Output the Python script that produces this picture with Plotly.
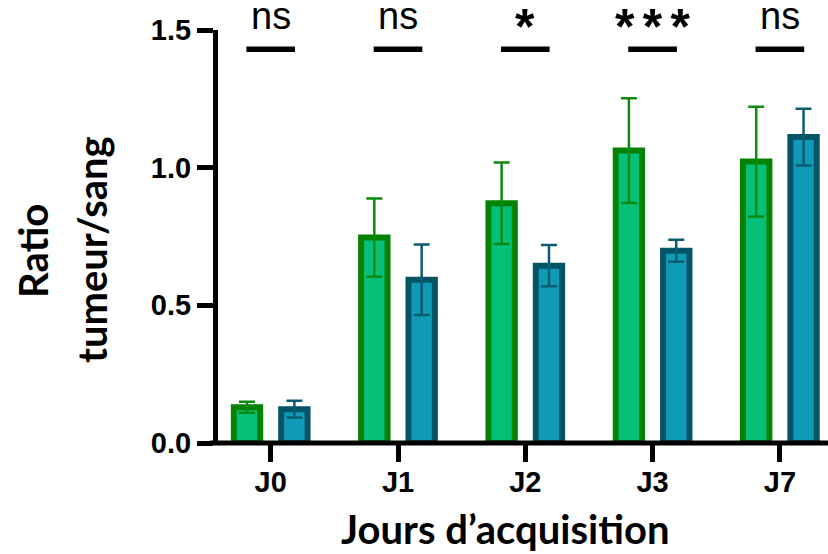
import plotly.graph_objects as go

categories = ["J0", "J1", "J2", "J3", "J7"]
green_mean = [0.130, 0.746, 0.871, 1.062, 1.022]
green_err = [0.020, 0.142, 0.148, 0.190, 0.199]
blue_mean = [0.123, 0.593, 0.644, 0.698, 1.111]
blue_err = [0.030, 0.128, 0.075, 0.040, 0.103]
significance = ["ns", "ns", "*", "*\u2006*\u2006*", "ns"]
ytick_vals = [0.0, 0.5, 1.0, 1.5]
ytick_text = ["0.0", "0.5", "1.0", "1.5"]

GREEN_FILL = "#06BF79"
GREEN_LINE = "#038203"
GREEN_ERR = "#0E8A0E"
BLUE_FILL = "#0F9AB5"
BLUE_LINE = "#045467"
BLUE_ERR = "#0C5C70"

W, H = 828, 554
L, R, T, B = 218, 0, 30, 111
PW = W - L - R

fig = go.Figure()
fig.add_trace(go.Bar(
    x=categories, y=green_mean,
    marker=dict(color=GREEN_FILL, line=dict(color=GREEN_LINE, width=6)),
    error_y=dict(type="data", array=green_err, visible=True,
                 color=GREEN_ERR, thickness=2.5, width=8),
    showlegend=False,
))
fig.add_trace(go.Bar(
    x=categories, y=blue_mean,
    marker=dict(color=BLUE_FILL, line=dict(color=BLUE_LINE, width=6)),
    error_y=dict(type="data", array=blue_err, visible=True,
                 color=BLUE_ERR, thickness=2.5, width=8),
    showlegend=False,
))

half = 0.186
shapes = []
# x axis line
shapes.append(dict(type="line", xref="paper", yref="paper",
                   x0=-8 / PW, x1=1, y0=0, y1=0,
                   line=dict(color="black", width=5)))
annotations = []
for i, s in enumerate(significance):
    shapes.append(dict(type="line", xref="x", yref="y",
                       x0=i - half - 0.005, x1=i + half + 0.005, y0=1.43, y1=1.43,
                       line=dict(color="black", width=5.5)))
    if s == "ns":
        annotations.append(dict(x=i, y=1, xref="x", yref="paper", text=s,
                                showarrow=False, yanchor="bottom", yshift=-9,
                                font=dict(family="Liberation Sans", size=38, color="black")))
    else:
        annotations.append(dict(x=i, y=1, xref="x", yref="paper", text=s,
                                showarrow=False, yanchor="bottom", yshift=-27,
                                font=dict(family="Liberation Sans", size=50, color="black",
                                          weight="bold")))

title_font = dict(family="Lato", size=40, color="black", weight="bold")
annotations.append(dict(x=(33 - L) / PW, y=(H - B - 251) / (H - T - B), xref="paper", yref="paper",
                        text="Ratio", textangle=-90, showarrow=False,
                        xanchor="center", yanchor="middle", font=title_font))
annotations.append(dict(x=(92 - L) / PW, y=(H - B - 249) / (H - T - B), xref="paper", yref="paper",
                        text="tumeur/sang", textangle=-90, showarrow=False,
                        xanchor="center", yanchor="middle", font=title_font))
annotations.append(dict(x=(505 - L) / PW, y=(H - B - 529) / (H - T - B), xref="paper", yref="paper",
                        text="Jours d\u2019acquisition", showarrow=False,
                        xanchor="center", yanchor="middle", font=title_font))

fig.update_layout(
    width=W, height=H, autosize=False,
    margin=dict(l=L, r=R, t=T, b=B),
    plot_bgcolor="white", paper_bgcolor="white",
    barmode="group", bargap=0.256, bargroupgap=0.443,
    shapes=shapes, annotations=annotations,
)
fig.update_xaxes(
    range=[-0.414, 4.378], showline=False, showgrid=False, zeroline=False,
    ticks="outside", ticklen=18, tickwidth=4.5, tickcolor="black",
    tickfont=dict(family="Liberation Sans", size=29, color="black", weight="bold"),
    ticklabelstandoff=-5,
)
fig.update_yaxes(
    range=[0, 1.5], showline=True, linewidth=5, linecolor="black",
    showgrid=False, zeroline=False,
    ticks="outside", ticklen=16, tickwidth=4.5, tickcolor="black",
    tickvals=ytick_vals, ticktext=ytick_text,
    tickfont=dict(family="Liberation Sans", size=29, color="black", weight="bold"),
)

fig.write_html("out.html", config={"displayModeBar": False},
               post_script="document.body.style.margin='0';document.body.style.overflow='hidden';")
